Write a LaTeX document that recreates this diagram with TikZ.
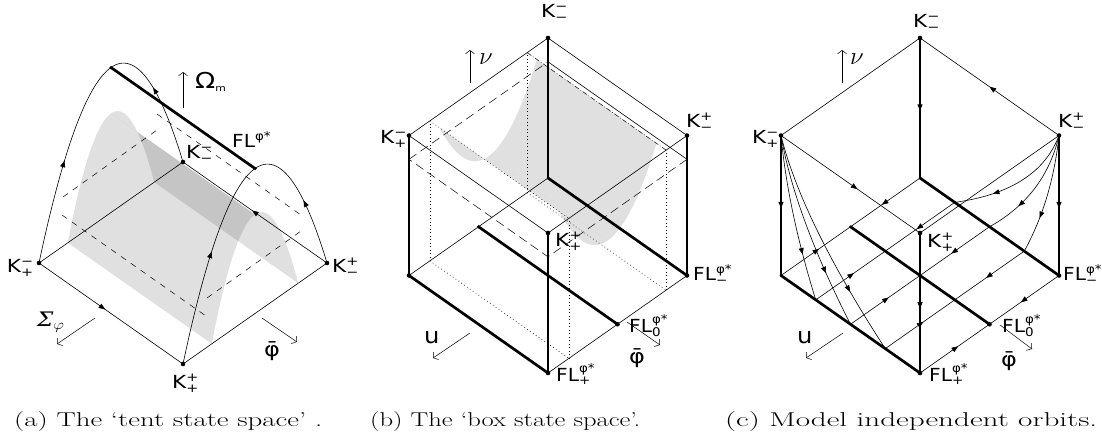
\documentclass[tikz,border=0pt]{standalone}
\usepackage{fontspec}
\newfontfamily\lbl{DejaVu Sans}
\newfontfamily\lblserif{DejaVu Serif}
\usetikzlibrary{arrows.meta,decorations.markings}
\newcommand{\ssz}[1]{\hbox{\lbl\fontsize{12}{12}\selectfont #1}}
\newcommand{\KK}[2]{\scalebox{1.2}[1]{K$^{\ssz{#1}}_{\ssz{#2}}$}}
\newcommand{\FLL}[1]{\scalebox{1.12}[1]{FL$^{\ssz{φ*}}_{\ssz{#1}}$}}
\newcommand{\capt}[2]{\resizebox{#1}{\height}{\fontsize{20}{24}\selectfont #2}}
\tikzset{
 lab/.style={font=\lbl\fontsize{18}{20}\selectfont,inner sep=0pt},
 biglab/.style={font=\lbl\fontsize{22}{24}\selectfont,inner sep=0pt},
 edge/.style={line width=0.6pt},
 vedge/.style={line width=1.1pt},
 fl/.style={line width=2.7pt},
 dot/.style={circle,fill,inner sep=0pt,minimum size=4.6pt},
 axarr/.style={line width=0.5pt,-{Straight Barb[length=3.5pt,width=9pt]}},
 marr/.style={postaction={decorate},decoration={markings,mark=at position #1 with {\arrow{Triangle[length=6.5pt,width=5pt]}}}},
 marr/.default=0.5,
 gsurf/.style={fill=black,fill opacity=0.12},
 dsh/.style={line width=0.5pt,dash pattern=on 6pt off 6pt},
 ldsh/.style={line width=0.5pt,dash pattern=on 9pt off 5pt},
 dtd/.style={line width=0.6pt,dash pattern=on 0.7pt off 2.8pt},
 dsd/.style={line width=0.5pt,dash pattern=on 5pt off 2pt on 0.7pt off 2pt},
}
\begin{document}
\begin{tikzpicture}[x=1pt,y=-1pt]
\useasboundingbox (0,0) rectangle (1102,434);
% ================= panel (a) =================
\def\fa{0.683*(1-(\t-0.5)*(\t-0.5)/0.09)}
\begin{scope}[shift={(39,263)},x={(144pt,-101pt)},y={(144pt,101pt)},z={(0pt,145pt)}]
 \fill[gsurf] plot[variable=\t,domain=0.2:0.5,samples=25] ({0},{\t},{\fa}) -- plot[variable=\t,domain=0.5:0.2,samples=25] ({1},{\t},{\fa}) -- cycle;
 \fill[gsurf] plot[variable=\t,domain=0.5:0.8,samples=25] ({0},{\t},{\fa}) -- plot[variable=\t,domain=0.8:0.5,samples=25] ({1},{\t},{\fa}) -- cycle;
 \node[dot] (A-Kpm) at (0,0,0) {};
 \node[dot] (A-Kpp) at (1,0,0) {};
 \node[dot] (A-Kmm) at (0,1,0) {};
 \node[dot] (A-Kmp) at (1,1,0) {};
 \node[dot,minimum size=3.5pt] (A-F1) at (0,0.5,1) {};
 \node[dot,minimum size=3.5pt] (A-F2) at (1,0.5,1) {};
 \draw[edge,marr=0.5] plot[variable=\t,domain=0:0.5,samples=40] ({0},{\t},{4*\t*(1-\t)});
 \draw[edge,marr=0.6] plot[variable=\t,domain=1:0.5,samples=40] ({0},{\t},{4*\t*(1-\t)});
 \draw[edge,marr=0.55] plot[variable=\t,domain=0:0.5,samples=40] ({1},{\t},{4*\t*(1-\t)});
 \draw[edge,marr=0.5] plot[variable=\t,domain=1:0.5,samples=40] ({1},{\t},{4*\t*(1-\t)});
\end{scope}
\draw[dsh] (63,197) -- (157,130);
\draw[dsh] (62,215) -- (206,316);
\draw[dsh] (207,298) -- (301,231);
\draw[dsh] (157,114) -- (301,215);
\draw[edge,marr=0.46] (A-Kpm.center) -- (A-Kpp.center);
\draw[edge,marr=0.52] (A-Kmp.center) -- (A-Kmm.center);
\draw[edge] (A-Kpm.center) -- (A-Kmm.center);
\draw[edge] (A-Kpp.center) -- (A-Kmp.center);
\draw[fl] (A-F1.center) -- (A-F2.center);
\node[lab,anchor=base east] (A-lKpm) at (34,272) {\KK{−}{+}};
\node[lab,anchor=base west] (A-lKmm) at (186,158) {\KK{−}{−}};
\node[lab,anchor=base west] (A-lKmp) at (332,272) {\KK{+}{−}};
\node[lab,anchor=base west] (A-lKpp) at (172,388) {\KK{+}{+}};
\node[lab,anchor=base west] (A-lFL) at (232,147) {\scalebox{1.12}[1]{FL$^{\ssz{φ*}}$}};
\coordinate (A-om1) at (183,108); \coordinate (A-om2) at (183,72);
\draw[axarr] (A-om1) -- (A-om2);
\node[biglab,anchor=base west] (A-lom) at (195,88) {\scalebox{1.2}[1]{Ω\raisebox{-3pt}{\fontsize{9}{9}\selectfont m}}};
\coordinate (A-s1) at (95,318); \coordinate (A-s2) at (57,344);
\draw[axarr] (A-s1) -- (A-s2);
\node[anchor=base west,inner sep=0pt,font=\fontsize{20}{22}\selectfont] (A-ls) at (37,326) {\scalebox{1.15}[1]{{\lblserif\itshape Σ}$_{\varphi}$}};
\coordinate (A-p1) at (262,318); \coordinate (A-p2) at (297,342);
\draw[axarr] (A-p1) -- (A-p2);
\node[biglab,anchor=base west,font=\lbl\fontsize{20}{22}\selectfont] (A-lp) at (264,356) {\scalebox{1.2}[1]{φ̄}};
% ================= panel (b) =================
\def\fb{1-0.45*(1-(\t-0.5)*(\t-0.5)/0.1225)}
\begin{scope}[shift={(548,178)},x={(-139pt,-97.5pt)},y={(139pt,-97.5pt)},z={(0pt,140pt)}]
 \fill[gsurf] plot[variable=\t,domain=0.85:0.5,samples=25] ({\t},{0.07},{\fb}) -- plot[variable=\t,domain=0.5:0.85,samples=25] ({\t},{0.93},{\fb}) -- cycle;
 \fill[gsurf] plot[variable=\t,domain=0.5:0.15,samples=25] ({\t},{0.07},{\fb}) -- plot[variable=\t,domain=0.15:0.5,samples=25] ({\t},{0.93},{\fb}) -- cycle;
 \draw[dtd] (0.15,0,0) -- (0.15,0,1);
 \draw[dtd] (0.85,0,0) -- (0.85,0,1);
 \draw[dtd] (0.15,1,0) -- (0.15,1,1);
 \draw[dtd] (0.85,1,0) -- (0.85,1,1);
 \draw[dsd] (0.15,0,1) -- (0.15,1,1);
 \draw[dtd] (0.85,0,1) -- (0.85,1,1);
 \draw[dtd] (0.15,0,0) -- (0.15,1,0);
 \draw[dtd] (0.85,0,0) -- (0.85,1,0);
 \draw[ldsh] (1,0,0.83) -- (0,0,0.83);
 \draw[edge] (0,0,0.83) -- (0,1,0.83);
 \draw[ldsh] (0,1,0.83) -- (1,1,0.83) -- (1,0,0.83);
 \node[dot] (B-Kmm) at (0,0,1) {};
 \node[dot] (B-Kpm) at (1,0,1) {};
 \node[dot] (B-Kmp) at (0,1,1) {};
 \node[dot] (B-Kpp) at (1,1,1) {};
 \node[dot,minimum size=3pt] (B-O) at (0,0,0) {};
 \node[dot] (B-L) at (1,0,0) {};
 \node[dot] (B-FLp) at (1,1,0) {};
 \node[dot] (B-FLm) at (0,1,0) {};
 \node[dot,minimum size=3.5pt] (B-M1) at (0.5,0,0) {};
 \node[dot] (B-FL0) at (0.5,1,0) {};
\end{scope}
\draw[edge] (B-Kmm.center) -- (B-Kpm.center);
\draw[edge] (B-Kmm.center) -- (B-Kmp.center);
\draw[edge] (B-Kpm.center) -- (B-Kpp.center);
\draw[edge] (B-Kpp.center) -- (B-Kmp.center);
\draw[edge] (B-O.center) -- (B-L.center);
\draw[edge] (B-FLp.center) -- (B-FLm.center);
\draw[vedge] (B-Kmm.center) -- (B-O.center);
\draw[vedge] (B-Kpm.center) -- (B-L.center);
\draw[vedge] (B-Kmp.center) -- (B-FLm.center);
\draw[vedge] (B-Kpp.center) -- (B-FLp.center);
\draw[fl] (B-L.center) -- (B-FLp.center);
\draw[fl] (B-O.center) -- (B-FLm.center);
\draw[fl] (B-M1.center) -- (B-FL0.center);
\node[lab,anchor=base west] (B-lKmm) at (541,17) {\KK{−}{−}};
\node[lab,anchor=base west] (B-lKpm) at (380,143) {\KK{−}{+}};
\node[lab,anchor=base west] (B-lKmp) at (686,127) {\KK{+}{−}};
\node[lab,anchor=base west] (B-lKpp) at (555,246) {\KK{+}{+}};
\node[lab,anchor=base west] (B-lFLm) at (693,280) {\FLL{−}};
\node[lab,anchor=base west] (B-lFL0) at (629,332) {\FLL{0}};
\node[lab,anchor=base west] (B-lFLp) at (556,381) {\FLL{+}};
\coordinate (B-n1) at (470,83); \coordinate (B-n2) at (470,50);
\draw[axarr] (B-n1) -- (B-n2);
\node[anchor=base west,inner sep=0pt,font=\fontsize{24}{26}\selectfont] (B-ln) at (479,64) {$\nu$};
\coordinate (B-u1) at (470,333); \coordinate (B-u2) at (433,358);
\draw[axarr] (B-u1) -- (B-u2);
\node[biglab,anchor=base west] (B-lu) at (424,343) {\scalebox{1.1}[1]{u}};
\coordinate (B-p1) at (627,322); \coordinate (B-p2) at (660,345);
\draw[axarr] (B-p1) -- (B-p2);
\node[biglab,anchor=base west,font=\lbl\fontsize{20}{22}\selectfont] (B-lp) at (629,363) {\scalebox{1.2}[1]{φ̄}};
% ================= panel (c) =================
\begin{scope}[shift={(920,178)},x={(-139pt,-97.5pt)},y={(139pt,-97.5pt)},z={(0pt,140pt)}]
 \node[dot] (C-Kmm) at (0,0,1) {};
 \node[dot] (C-Kpm) at (1,0,1) {};
 \node[dot] (C-Kmp) at (0,1,1) {};
 \node[dot] (C-Kpp) at (1,1,1) {};
 \node[dot,minimum size=3pt] (C-O) at (0,0,0) {};
 \node[dot,minimum size=3pt] (C-L) at (1,0,0) {};
 \node[dot] (C-FLp) at (1,1,0) {};
 \node[dot] (C-FLm) at (0,1,0) {};
 \node[dot,minimum size=3pt] (C-M1) at (0.5,0,0) {};
 \node[dot] (C-FL0) at (0.5,1,0) {};
 \foreach \p/\n in {0/0,0.25/1,0.5/2,0.75/3,1/4}{
  \coordinate (C-a\n) at (1,\p,0);
  \coordinate (C-b\n) at (0,\p,0);
  \coordinate (C-m\n) at (0.5,\p,0);
 }
 \foreach \pe in {0.25,0.5,0.75}{
  \draw[edge,marr=0.72] (1,0,1) -- plot[variable=\t,domain=0.01:1,samples=40] ({1},{\pe*\t*(0.4+0.6*\t)},{1-\t});
  \draw[edge,marr=0.7] (0,1,1) -- plot[variable=\t,domain=0.01:1,samples=40] ({0},{1-(1-\pe)*\t*(0.4+0.6*\t)},{1-\t});
 }
\end{scope}
\foreach \n in {0,1,2,3,4}{
 \draw[edge,marr=0.55] (C-a\n) -- (C-m\n);
 \draw[edge,marr=0.55] (C-b\n) -- (C-m\n);
}
\draw[edge] (C-Kmm.center) -- (C-Kpm.center);
\draw[edge,marr=0.5] (C-Kmp.center) -- (C-Kmm.center);
\draw[edge,marr=0.55] (C-Kpm.center) -- (C-Kpp.center);
\draw[edge] (C-Kpp.center) -- (C-Kmp.center);
\draw[vedge,marr=0.52] (C-Kmm.center) -- (C-O.center);
\draw[vedge,marr=0.52] (C-Kpm.center) -- (C-L.center);
\draw[vedge,marr=0.52] (C-Kmp.center) -- (C-FLm.center);
\draw[vedge,marr=0.54] (C-Kpp.center) -- (C-FLp.center);
\draw[fl] (C-L.center) -- (C-FLp.center);
\draw[fl] (C-O.center) -- (C-FLm.center);
\draw[fl] (C-M1.center) -- (C-FL0.center);
\node[lab,anchor=base west] (C-lKmm) at (913,27) {\KK{−}{−}};
\node[lab,anchor=base west] (C-lKpm) at (752,143) {\KK{−}{+}};
\node[lab,anchor=base west] (C-lKmp) at (1058,127) {\KK{+}{−}};
\node[lab,anchor=base west] (C-lKpp) at (927,247) {\KK{+}{+}};
\node[lab,anchor=base west] (C-lFLm) at (1063,280) {\FLL{−}};
\node[lab,anchor=base west] (C-lFL0) at (1002,332) {\FLL{0}};
\node[lab,anchor=base west] (C-lFLp) at (929,381) {\FLL{+}};
\coordinate (C-n1) at (842,83); \coordinate (C-n2) at (842,50);
\draw[axarr] (C-n1) -- (C-n2);
\node[anchor=base west,inner sep=0pt,font=\fontsize{24}{26}\selectfont] (C-ln) at (850,64) {$\nu$};
\coordinate (C-u1) at (843,333); \coordinate (C-u2) at (806,358);
\draw[axarr] (C-u1) -- (C-u2);
\node[biglab,anchor=base west] (C-lu) at (797,343) {\scalebox{1.1}[1]{u}};
\coordinate (C-p1) at (1000,325); \coordinate (C-p2) at (1032,349);
\draw[axarr] (C-p1) -- (C-p2);
\node[biglab,anchor=base west,font=\lbl\fontsize{20}{22}\selectfont] (C-lp) at (1001,366) {\scalebox{1.2}[1]{φ̄}};
% captions
\node[anchor=base west,inner sep=0pt] (capa) at (14,426) {\capt{308pt}{(a) The `tent state space' .}};
\node[anchor=base west,inner sep=0pt] (capb) at (370,426) {\capt{270pt}{(b) The `box state space'.}};
\node[anchor=base west,inner sep=0pt] (capc) at (725,426) {\capt{372pt}{(c) Model independent orbits.}};
\end{tikzpicture}
\end{document}
